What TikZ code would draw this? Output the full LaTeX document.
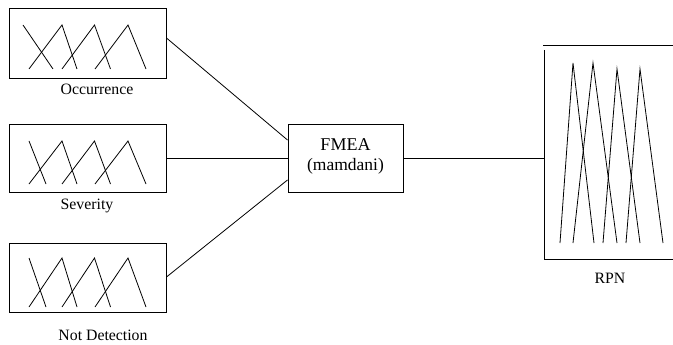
\documentclass[tikz,border=0pt]{standalone}
\usepackage{fontspec}
\setmainfont{Liberation Serif}
\newcommand{\mfsetdraw}[4]{% top, bottom, first-line top x, first-line bottom x
  \draw (#3,#1) -- (#4,#2);
  \draw (29,#2) -- (62,#1) -- (77,#2);
  \draw (62,#2) -- (94.5,#1) -- (110.5,#2);
  \draw (95,#2) -- (128,#1) -- (146,#2);
}
\begin{document}
\begin{tikzpicture}[x=1pt,y=-1pt,line width=0.8pt,
  mfbox/.style={draw,line width=1pt,inner sep=0pt,minimum width=157pt},
  lbl/.style={anchor=base,inner sep=0pt,font=\fontsize{15.8}{18}\selectfont},
  big/.style={anchor=base,inner sep=0pt,font=\fontsize{18}{20}\selectfont}]
\useasboundingbox (0,0) rectangle (673,345);
% input boxes
\node[mfbox,minimum height=70pt] (occ) at (87.5,44) {};
\node[mfbox,minimum height=67pt] (sev) at (87.5,158.5) {};
\node[mfbox,minimum height=69pt] (det) at (87.5,278) {};
\mfsetdraw{25}{69}{23}{53}
\mfsetdraw{141}{184}{29}{46}
\mfsetdraw{258}{307}{29}{46}
\node[lbl] (locc) at (97,95) {Occurrence};
\node[lbl] (lsev) at (87,209) {Severity};
\node[lbl] (ldet) at (103,340) {Not Detection};
% FMEA box
\node[draw,line width=1pt,inner sep=0pt,minimum width=115pt,minimum height=67pt] (fmea) at (345.5,158.5) {};
\node[big] (tf) at (345.5,150) {FMEA};
\node[big,font=\fontsize{17.5}{20}\selectfont] (tm) at (345.5,171) {(mamdani)};
% RPN open box
\coordinate (rpn) at (544,158.5);
\draw[line width=1pt] (543,46) -- (673,46);
\draw[line width=1pt] (544,50) -- (544,259) -- (673,259);
\draw (560,243) -- (573,63) -- (594,243);
\draw (573,243) -- (593,63) -- (617,243);
\draw (603,243) -- (617,69) -- (640,243);
\draw (626,243) -- (640,69) -- (663,243);
\node[lbl] (lrpn) at (610,283) {RPN};
% connectors
\draw ([yshift=6pt]occ.east) -- ([yshift=18.5pt]fmea.west);
\draw (sev.east) -- (fmea.west);
\draw ([yshift=1pt]det.east) -- ([yshift=-21.5pt]fmea.west);
\draw (fmea.east) -- (rpn);
\end{tikzpicture}
\end{document}
